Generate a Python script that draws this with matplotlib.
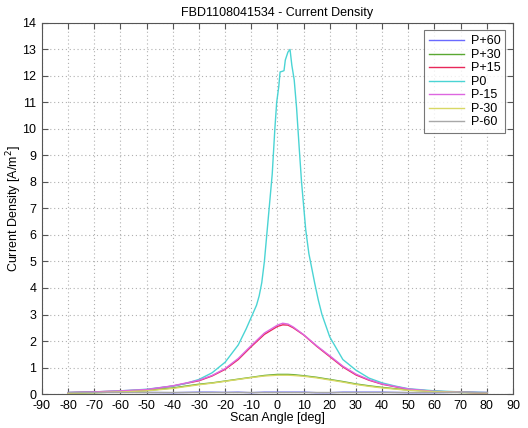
import numpy as np
import matplotlib
matplotlib.use("Agg")
import matplotlib.pyplot as plt

plt.rcParams['font.family'] = ['Liberation Sans', 'DejaVu Sans']
plt.rcParams['axes.unicode_minus'] = False

# scan angles (deg) for the broad beams and for the narrow P0 beam
angles = [-80, -70, -60, -50, -40, -30, -25, -20, -15, -10, -5, 0, 2, 4, 6,
          10, 15, 20, 25, 30, 35, 40, 50, 60, 70, 80]
angles_p0 = [-80, -70, -60, -50, -40, -35, -30, -25, -20, -15, -12, -10, -8,
             -7, -6, -5, -4, -3, -2, -1, -0.3, 0.5, 1, 2, 2.5, 3, 4, 4.8, 5.5,
             6.4, 7.3, 8.3, 9.2, 10, 10.8, 12, 13, 14.3, 15.6, 17, 20, 25, 30,
             35, 40, 45, 50, 60, 70, 80]

p_plus60 = [0.06, 0.07, 0.07, 0.06, 0.05, 0.07, 0.07, 0.06, 0.07, 0.05, 0.07, 0.07,
            0.07, 0.07, 0.07, 0.07, 0.05, 0.05, 0.07, 0.07, 0.07, 0.07, 0.05, 0.05,
            0.07, 0.06]
p_plus30 = [0.03, 0.05, 0.08, 0.13, 0.23, 0.37, 0.42, 0.49, 0.56, 0.63, 0.70, 0.74,
            0.74, 0.74, 0.73, 0.69, 0.63, 0.55, 0.47, 0.38, 0.31, 0.25, 0.15, 0.10,
            0.06, 0.04]
p_plus15 = [0.05, 0.08, 0.11, 0.16, 0.30, 0.50, 0.68, 0.93, 1.30, 1.79, 2.25, 2.55,
            2.61, 2.60, 2.50, 2.23, 1.80, 1.41, 1.02, 0.72, 0.52, 0.37, 0.18, 0.10,
            0.07, 0.04]
p0 = [0.05, 0.08, 0.12, 0.18, 0.30, 0.40, 0.55, 0.80, 1.20, 1.85, 2.45, 2.90, 3.35,
      3.70, 4.20, 5.00, 6.10, 7.20, 8.30, 10.00, 11.00, 11.60, 12.15, 12.18, 12.20,
      12.60, 12.90, 13.00, 12.40, 11.85, 10.80, 9.30, 8.00, 7.10, 6.20, 5.30, 4.80,
      4.15, 3.55, 3.00, 2.15, 1.30, 0.90, 0.60, 0.42, 0.30, 0.20, 0.12, 0.08, 0.05]
p_minus15 = [0.05, 0.08, 0.12, 0.17, 0.31, 0.52, 0.70, 0.96, 1.34, 1.83, 2.30, 2.60,
             2.67, 2.64, 2.53, 2.24, 1.82, 1.44, 1.05, 0.75, 0.54, 0.38, 0.19, 0.10,
             0.07, 0.04]
p_minus30 = [0.03, 0.05, 0.08, 0.12, 0.21, 0.35, 0.41, 0.48, 0.55, 0.62, 0.68, 0.71,
             0.71, 0.71, 0.70, 0.67, 0.61, 0.53, 0.45, 0.36, 0.29, 0.23, 0.14, 0.09,
             0.06, 0.04]
p_minus60 = [0.08, 0.08, 0.08, 0.08, 0.08, 0.08, 0.08, 0.08, 0.08, 0.08, 0.08, 0.08,
             0.08, 0.08, 0.08, 0.08, 0.08, 0.08, 0.08, 0.08, 0.08, 0.08, 0.08, 0.08,
             0.08, 0.08]

labels = ['P+60', 'P+30', 'P+15', 'P0', 'P-15', 'P-30', 'P-60']
colors = ['#6a6aff', '#5aa832', '#e8285a', '#4ad4d4', '#dd66e0', '#d8d865', '#a8a8a8']
series = [(angles, p_plus60), (angles, p_plus30), (angles, p_plus15), (angles_p0, p0),
          (angles, p_minus15), (angles, p_minus30), (angles, p_minus60)]

fig = plt.figure(figsize=(5.28, 4.28), dpi=100)
ax = fig.add_axes([0.0795, 0.0794, 0.892, 0.867])

for (x, y), lab, c in zip(series, labels, colors):
    ax.plot(x, y, color=c, lw=1.0, label=lab)

ax.set_xlim(-90, 90)
ax.set_ylim(0, 14)
ax.set_xticks(np.arange(-90, 91, 10))
ax.set_yticks(np.arange(0, 15, 1))
ax.grid(True, linestyle=(0, (1, 2.5)), color='#b0b0b0', lw=0.8)
ax.tick_params(direction='in', top=True, right=True, length=4, labelsize=9,
               color='#555555')
ax.tick_params(axis='x', pad=4)
ax.tick_params(axis='y', pad=4)
for s in ax.spines.values():
    s.set_color('#555555')

ax.set_title('FBD1108041534 - Current Density', fontsize=9, pad=5)
ax.set_xlabel('Scan Angle [deg]', fontsize=9, labelpad=0)
ax.set_ylabel('Current Density [A/m$^2$]', fontsize=9)
ax.yaxis.set_label_coords(-0.038, 0.5)

leg = ax.legend(loc='upper right', fontsize=9, frameon=True, fancybox=False,
                borderaxespad=0.6, handlelength=2.8, labelspacing=0.12,
                handletextpad=0.5, borderpad=0.4)
leg.get_frame().set_edgecolor('#555555')
leg.get_frame().set_linewidth(0.8)

fig.savefig('out.png', dpi=100)
